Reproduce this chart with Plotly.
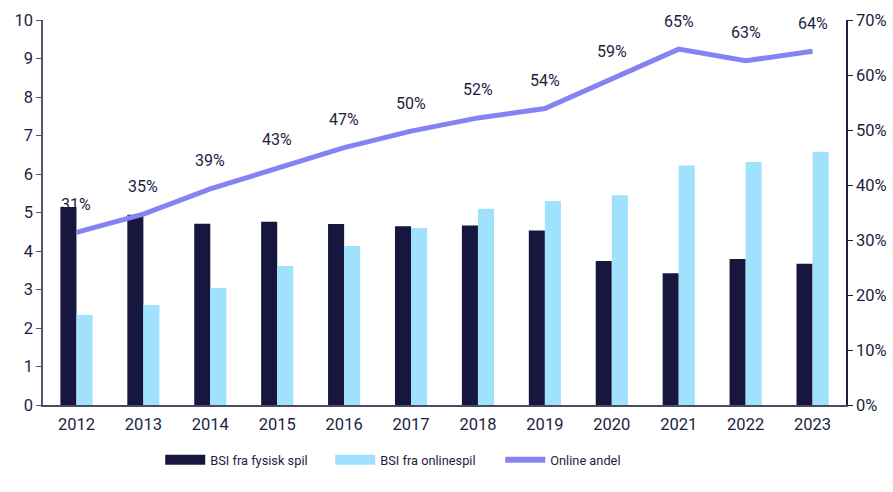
import plotly.graph_objects as go

years = ["2012", "2013", "2014", "2015", "2016", "2017", "2018", "2019", "2020", "2021", "2022", "2023"]
bsi_fysisk = [5.14, 4.94, 4.71, 4.76, 4.70, 4.64, 4.66, 4.53, 3.74, 3.42, 3.79, 3.67]
bsi_online = [2.34, 2.60, 3.04, 3.61, 4.13, 4.60, 5.10, 5.30, 5.45, 6.22, 6.31, 6.58]
online_andel = [31.4, 34.7, 39.3, 43.1, 46.8, 49.8, 52.2, 53.9, 59.2, 64.7, 62.6, 64.3]
andel_labels = ["31%", "35%", "39%", "43%", "47%", "50%", "52%", "54%", "59%", "65%", "63%", "64%"]

NAVY = "#16163F"
LIGHT = "#A0E1FD"
LINE = "#8583F2"
TXT = "#1E1E3F"
FONT = "Roboto"

fig = go.Figure()
fig.add_trace(go.Bar(x=years, y=bsi_fysisk, name="BSI fra fysisk spil", marker_color=NAVY,
                     marker_line_width=0, showlegend=False))
fig.add_trace(go.Bar(x=years, y=bsi_online, name="BSI fra onlinespil", marker_color=LIGHT,
                     marker_line_width=0, showlegend=False))
fig.add_trace(go.Scatter(x=years, y=online_andel, name="Online andel", mode="lines",
                         line=dict(color=LINE, width=5), yaxis="y2", showlegend=False))

# legend keys (no data, legend only)
fig.add_trace(go.Scatter(x=[years[0]], y=[None], mode="lines", name="BSI fra fysisk spil",
                         line=dict(color=NAVY, width=12)))
fig.add_trace(go.Scatter(x=[years[0]], y=[None], mode="lines", name="BSI fra onlinespil",
                         line=dict(color=LIGHT, width=12)))
fig.add_trace(go.Scatter(x=[years[0]], y=[None], mode="lines", name="Online andel",
                         line=dict(color=LINE, width=6)))

for i, (v, lab) in enumerate(zip(online_andel, andel_labels)):
    fig.add_annotation(x=i, y=v, xref="x", yref="y2", text=lab, showarrow=False,
                       yshift=28, font=dict(family=FONT, size=16, color=TXT))

fig.update_layout(
    width=893, height=492,
    margin=dict(l=43, r=47, t=20, b=87, autoexpand=False),
    paper_bgcolor="white", plot_bgcolor="white",
    barmode="group", bargap=0.52, bargroupgap=0,
    font=dict(family=FONT, size=15, color=TXT),
    xaxis=dict(type="category", categoryorder="array", categoryarray=years,
               range=[-0.5, len(years) - 0.5], automargin=False,
               showline=True, linecolor="#4A4A66", linewidth=1.5,
               ticks="", showgrid=False, tickfont=dict(size=16.5), ticklabelstandoff=3),
    yaxis=dict(range=[0, 10], dtick=1, showline=True, linecolor="#55556E", linewidth=1.5,
               ticks="outside", ticklen=5, tickcolor="#55556E", showgrid=False,
               zeroline=False, tickfont=dict(size=16.5), automargin=False),
    yaxis2=dict(range=[0, 70], dtick=10, ticksuffix="%", overlaying="y", side="right",
                showline=True, linecolor=TXT, linewidth=1.5, ticks="outside", ticklen=5,
                tickcolor=TXT, showgrid=False, zeroline=False, tickfont=dict(size=16.5),
                automargin=False),
    legend=dict(orientation="h", x=0.146, xanchor="left", y=-0.104, yanchor="top",
                font=dict(size=12.8), itemwidth=40, tracegroupgap=0,
                entrywidth=115, entrywidthmode="pixels"),
    showlegend=True,
)

fig.write_html("out.html", config={"displayModeBar": False},
               post_script="document.body.style.margin='0px';")
